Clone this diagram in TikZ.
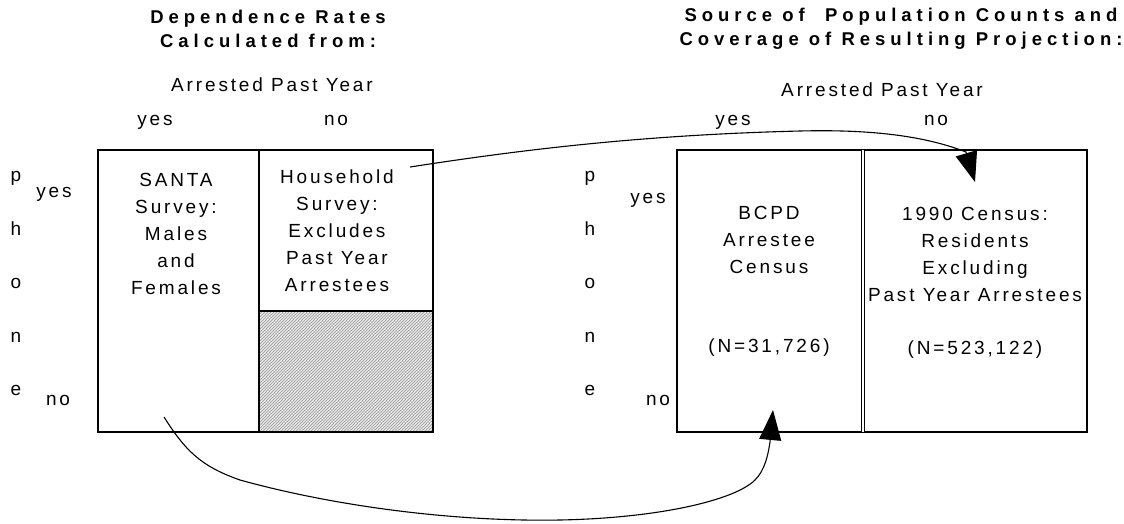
\documentclass[tikz,border=0pt]{standalone}
\usepackage{fontspec}
\setmainfont{Liberation Sans}
\newfontfamily\spaced[LetterSpace=15]{Liberation Sans}
\newfontfamily\titlefont[LetterSpace=27]{Liberation Sans}
\usetikzlibrary{arrows.meta,patterns}

\begin{document}
\begin{tikzpicture}[x=1pt,y=-1pt,
  every node/.style={font=\spaced\fontsize{19}{27}\selectfont, inner sep=0pt, align=center},
  title/.style={font=\titlefont\bfseries\fontsize{18.5}{24}\selectfont},
  cell/.style={draw=black, line width=1.3pt},
  link/.style={line width=1.1pt, -{Triangle[length=30pt,width=22pt]}}]

\useasboundingbox (0,0) rectangle (1124,523);

% left table
\node[title] (ltitle) at (268,29) {Dependence Rates\\Calculated from:};
\node (larr) at (272,85) {Arrested Past Year};
\node[anchor=base] (lyes) at (155,125) {yes};
\node[anchor=base] (lno) at (336,125) {no};
\node[anchor=base] (lsideyes) at (54,197) {yes};
\node[anchor=base] (lsideno) at (58,405) {no};
\foreach \ch/\y in {p/181,h/235,o/288,n/342,e/395}
  \node[anchor=base] (l\ch) at (16,\y) {\ch};

\draw[cell] (98,150) rectangle (433,432);
\fill[gray!22] (259,311) rectangle (433,432);
\fill[pattern=north east lines, pattern color=gray!75] (259,311) rectangle (433,432);
\draw[cell] (259,311) rectangle (433,432);
\draw[cell] (259,150) rectangle (433,311);
\draw[line width=2.6pt] (259,150) -- (259,311);

\node (santa) at (176,234) {SANTA\\Survey:\\Males\\and\\Females};
\node (house) at (337,231) {Household\\Survey:\\Excludes\\Past Year\\Arrestees};

% right table
\node[title] (rtitle) at (901,29) {Source of~ Population Counts and\\Coverage of Resulting Projection:};
\node (rarr) at (882,90) {Arrested Past Year};
\node[anchor=base] (ryes) at (733,125) {yes};
\node[anchor=base] (rno) at (936,125) {no};
\node[anchor=base] (rsideyes) at (648,203) {yes};
\node[anchor=base] (rsideno) at (658,405) {no};
\foreach \ch/\y in {p/181,h/235,o/288,n/342,e/395}
  \node[anchor=base] (r\ch) at (590,\y) {\ch};

\draw[cell] (677,150) rectangle (1087,432);
\draw[line width=1pt, double, double distance=2.2pt] (863,150) -- (863,432);

\node (bcpd) at (769,240) {BCPD\\Arrestee\\Census};
\node (bcpdn) at (769,348) {(N=31,726)};
\node (census) at (975,254) {1990 Census:\\Residents\\Excluding\\Past Year Arrestees};
\node (censusn) at (975,350) {(N=523,122)};

% connectors
\coordinate (hstart) at (410,167);
\coordinate (ctip) at (975,182);
\coordinate (sstart) at (164,417);
\coordinate (btip) at (773,410);

\draw[link] (hstart) .. controls (520,150) and (640,135) .. (800,131)
  .. controls (880,129) and (930,138) .. (966,152) -- (ctip);
\draw[link] (sstart) .. controls (185,450) and (200,466) .. (240,480)
  .. controls (330,505) and (450,522) .. (560,520)
  .. controls (660,518) and (735,500) .. (755,480)
  .. controls (765,470) and (768,455) .. (770,442) -- (btip);
\end{tikzpicture}
\end{document}
